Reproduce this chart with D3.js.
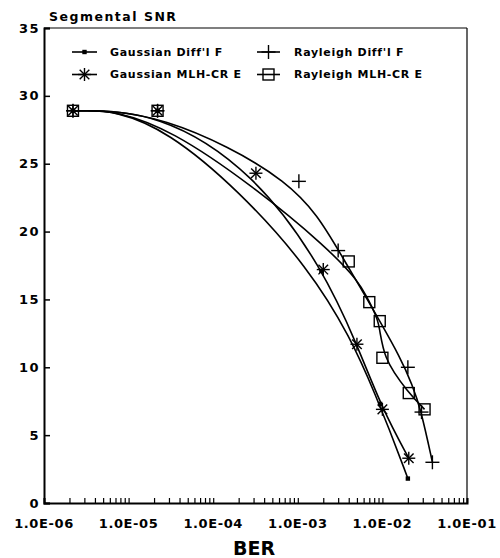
<!DOCTYPE html>
<html>
<head>
<meta charset="utf-8">
<script src="https://cdn.jsdelivr.net/npm/d3@7"></script>
<style>
  html, body { margin: 0; padding: 0; background: #fff; }
  svg text { font-family: "DejaVu Sans", "Liberation Sans", sans-serif; font-weight: bold; fill: #000; }
</style>
</head>
<body>
<svg id="chart" width="500" height="558"></svg>
<script>
// Segmental SNR versus bit error rate for four coding/channel combinations.
const seriesNames = ["Gaussian Diff'l F", "Rayleigh Diff'l F", "Gaussian MLH-CR E", "Rayleigh MLH-CR E"];
const seriesSymbols = ["dot", "plus", "star", "square"];

const gaussDiffBER = [2.2e-6, 2.2e-5, 1.9e-3, 9.4e-3, 2.0e-2];
const gaussDiffSNR = [28.9, 28.9, 17.1, 7.3, 1.8];

const rayDiffBER = [2.2e-6, 2.2e-5, 1.03e-3, 3.0e-3, 2.0e-2, 2.9e-2, 3.9e-2];
const rayDiffSNR = [28.9, 28.9, 23.7, 18.6, 10.0, 6.7, 3.0];

const gaussMlhBER = [2.2e-6, 2.2e-5, 3.2e-4, 2.0e-3, 5.0e-3, 1.0e-2, 2.05e-2];
const gaussMlhSNR = [28.9, 28.9, 24.3, 17.2, 11.7, 6.9, 3.3];

const rayMlhBER = [2.2e-6, 2.2e-5, 4.0e-3, 7.0e-3, 9.3e-3, 1.0e-2, 2.05e-2, 3.15e-2];
const rayMlhSNR = [28.9, 28.9, 17.8, 14.8, 13.4, 10.7, 8.1, 6.9];

const xTickValues = [1e-6, 1e-5, 1e-4, 1e-3, 1e-2, 1e-1];
const xTickLabels = ["1.0E-06", "1.0E-05", "1.0E-04", "1.0E-03", "1.0E-02", "1.0E-01"];
const yTickValues = [0, 5, 10, 15, 20, 25, 30, 35];

const xTitle = "BER";
const yTitle = "Segmental SNR";

const series = [
  { name: seriesNames[0], symbol: seriesSymbols[0], ber: gaussDiffBER, snr: gaussDiffSNR },
  { name: seriesNames[1], symbol: seriesSymbols[1], ber: rayDiffBER, snr: rayDiffSNR },
  { name: seriesNames[2], symbol: seriesSymbols[2], ber: gaussMlhBER, snr: gaussMlhSNR },
  { name: seriesNames[3], symbol: seriesSymbols[3], ber: rayMlhBER, snr: rayMlhSNR }
];

const svg = d3.select("#chart");
const plotLeft = 44, plotRight = 467, plotTop = 28, plotBottom = 503;

const x = d3.scaleLog().domain([1e-6, 1e-1]).range([plotLeft, plotRight]);
const y = d3.scaleLinear().domain([0, 35]).range([plotBottom, plotTop]);

// frame: heavy left/bottom axes, lighter top/right borders
svg.append("line").attr("x1", plotLeft).attr("x2", plotRight).attr("y1", plotTop).attr("y2", plotTop)
  .attr("stroke", "#000").attr("stroke-width", 1.2);
svg.append("line").attr("x1", plotRight).attr("x2", plotRight).attr("y1", plotTop).attr("y2", plotBottom)
  .attr("stroke", "#000").attr("stroke-width", 1.2);

// y axis with inward ticks
const yAxis = d3.axisRight(y).tickValues(yTickValues).tickSize(6).tickFormat("");
const gy = svg.append("g").attr("transform", `translate(${plotLeft},0)`).call(yAxis);
gy.select(".domain").attr("stroke-width", 2);
gy.selectAll(".tick line").attr("stroke-width", 1.5);
svg.append("g").selectAll("text").data(yTickValues).join("text")
  .attr("x", 40).attr("y", d => y(d))
  .attr("text-anchor", "end").attr("dominant-baseline", "central")
  .attr("font-size", 13).attr("letter-spacing", 1.5)
  .text(d => d);

// x axis: log scale with inward minor ticks at 2..9 of each decade
const minorTicks = [];
for (let e = -6; e < -1; e++) for (let m = 1; m <= 9; m++) minorTicks.push(m * Math.pow(10, e));
minorTicks.push(1e-1);
const xAxis = d3.axisTop(x).tickValues(minorTicks).tickSize(5).tickFormat("");
const gx = svg.append("g").attr("transform", `translate(0,${plotBottom})`).call(xAxis);
gx.select(".domain").attr("stroke-width", 2);
gx.selectAll(".tick line").attr("stroke-width", 1.2);
svg.append("g").selectAll("text").data(xTickValues).join("text")
  .attr("x", d => x(d)).attr("y", 528)
  .attr("text-anchor", "middle")
  .attr("font-size", 13).attr("letter-spacing", 0.6)
  .text((d, i) => xTickLabels[i]);

svg.append("text").attr("x", 254).attr("y", 555).attr("text-anchor", "middle")
  .attr("font-size", 19).text(xTitle);
svg.append("text").attr("x", 49).attr("y", 21).attr("text-anchor", "start")
  .attr("font-size", 12.5).attr("letter-spacing", 1.5).text(yTitle);

// smoothed B-spline curves through each series' points
const line = d3.line().x(d => x(d[0])).y(d => y(d[1])).curve(d3.curveBasis);
series.forEach(s => {
  const pts = s.ber.map((b, i) => [b, s.snr[i]]);
  svg.append("path").attr("d", line(pts)).attr("fill", "none")
    .attr("stroke", "#000").attr("stroke-width", 1.6);
});

function drawSymbol(g, type, cx, cy) {
  const seg = (x1, y1, x2, y2) => {
    g.append("line").attr("x1", cx + x1).attr("y1", cy + y1).attr("x2", cx + x2).attr("y2", cy + y2)
      .attr("stroke", "#000").attr("stroke-width", 1.4);
  };
  if (type === "dot") {
    g.append("rect").attr("x", cx - 2.2).attr("y", cy - 2.2).attr("width", 4.4).attr("height", 4.4).attr("fill", "#000");
  } else if (type === "plus") {
    seg(-7, 0, 7, 0); seg(0, -7, 0, 7);
  } else if (type === "star") {
    seg(-6.5, 0, 6.5, 0); seg(0, -6.5, 0, 6.5);
    seg(-4.8, -4.8, 4.8, 4.8); seg(-4.8, 4.8, 4.8, -4.8);
  } else if (type === "square") {
    g.append("rect").attr("x", cx - 5.5).attr("y", cy - 5.5).attr("width", 11).attr("height", 11)
      .attr("fill", "none").attr("stroke", "#000").attr("stroke-width", 1.4);
  }
}

const markers = svg.append("g");
series.forEach(s => {
  s.ber.forEach((b, i) => drawSymbol(markers, s.symbol, x(b), y(s.snr[i])));
});

// legend: two columns, two rows
const legendPos = [
  { lx1: 72, lx2: 97, tx: 110, ty: 52 },
  { lx1: 257, lx2: 280, tx: 294, ty: 52 },
  { lx1: 72, lx2: 97, tx: 110, ty: 74.5 },
  { lx1: 257, lx2: 280, tx: 294, ty: 74.5 }
];
const legend = svg.append("g");
series.forEach((s, i) => {
  const p = legendPos[i];
  legend.append("line").attr("x1", p.lx1).attr("x2", p.lx2).attr("y1", p.ty).attr("y2", p.ty)
    .attr("stroke", "#000").attr("stroke-width", 1.6);
  drawSymbol(legend, s.symbol, (p.lx1 + p.lx2) / 2, p.ty);
  legend.append("text").attr("x", p.tx).attr("y", p.ty).attr("dominant-baseline", "central")
    .attr("font-size", 11).attr("letter-spacing", 0.7).text(s.name);
});
</script>
</body>
</html>
